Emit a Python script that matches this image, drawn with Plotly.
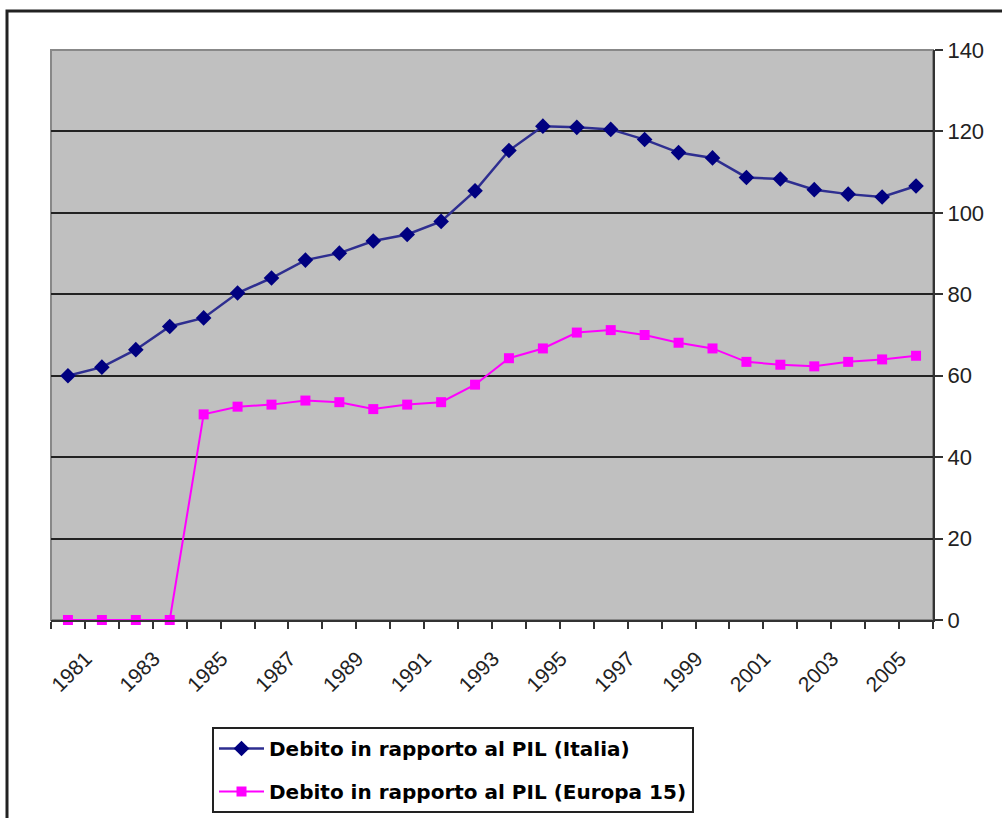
import plotly.graph_objects as go

# Rapporto debito/PIL, 1981-2006
anni = list(range(1981, 2007))
italia = [60.0, 62.1, 66.4, 72.1, 74.2, 80.3, 84.0, 88.4, 90.1, 93.1, 94.7, 97.9, 105.4,
          115.3, 121.3, 121.0, 120.5, 118.0, 114.8, 113.5, 108.7, 108.3, 105.7, 104.6,
          103.9, 106.6]
europa15 = [0, 0, 0, 0, 50.5, 52.4, 52.9, 53.9, 53.5, 51.8, 52.9, 53.5, 57.8,
            64.3, 66.7, 70.6, 71.2, 70.0, 68.1, 66.7, 63.4, 62.7, 62.3, 63.4, 64.0, 64.9]
etichette_anni = [str(a) for a in range(1981, 2006, 2)]
valori_y = list(range(0, 141, 20))

W, H = 1002, 818
L, R, T, B = 51, 933, 50, 620
pw, ph = R - L, B - T


def px(x):
    return (x - L) / pw


def py(y):
    return (B - y) / ph


fig = go.Figure()
fig.add_trace(go.Scatter(
    x=anni, y=italia, mode="lines+markers",
    name="Debito in rapporto al PIL (Italia)",
    legendgroup="it",
    line=dict(color="#2e2e90", width=2.5),
    marker=dict(symbol="diamond", size=12, color="#000080"),
    cliponaxis=False,
))
fig.add_trace(go.Scatter(
    x=anni, y=europa15, mode="lines+markers",
    name="Debito in rapporto al PIL (Europa 15)",
    legendgroup="eu",
    line=dict(color="#ff00ff", width=2),
    marker=dict(symbol="square", size=10, color="#ff00ff"),
    cliponaxis=False,
))

fig.update_layout(
    width=W, height=H,
    margin=dict(l=L, r=W - R, t=T, b=H - B, autoexpand=False),
    paper_bgcolor="white",
    plot_bgcolor="#c0c0c0",
    font=dict(family="Liberation Sans, Arial, sans-serif", color="#222"),
    showlegend=True,
    legend=dict(
        x=px(212), y=py(727), xanchor="left", yanchor="top",
        bgcolor="white", bordercolor="#222", borderwidth=2,
        font=dict(family="DejaVu Sans, Verdana, sans-serif", size=20, color="black",
                  weight="bold"),
        itemwidth=45, traceorder="grouped", tracegroupgap=14,
    ),
    xaxis=dict(
        range=[1980.5, 2006.5],
        tickmode="array",
        tickvals=list(range(1981, 2006, 2)),
        ticktext=etichette_anni,
        ticks="",
        tickangle=-45,
        tickfont=dict(family="Liberation Sans, Arial, sans-serif", size=21, color="#222"),
        ticklabelshift=18,
        ticklabelstandoff=16,
        showgrid=False,
        zeroline=False,
        showline=True, linecolor="#333", linewidth=2,
        minor=dict(tickmode="linear", tick0=1980.5, dtick=1, ticks="outside",
                   ticklen=7, tickwidth=2, tickcolor="#333", showgrid=False),
        fixedrange=True,
    ),
    yaxis=dict(
        range=[0, 140],
        side="right",
        tickmode="array",
        tickvals=valori_y,
        ticktext=[str(v) for v in valori_y],
        ticks="outside", ticklen=8, tickwidth=2, tickcolor="#333",
        tickfont=dict(family="Liberation Sans, Arial, sans-serif", size=22, color="#222"),
        showgrid=True, gridcolor="#222", gridwidth=2,
        zeroline=False,
        showline=True, linecolor="#333", linewidth=2,
        fixedrange=True,
    ),
    shapes=[
        # bordo dell'area del grafico
        dict(type="rect", xref="paper", yref="paper", x0=0, x1=1, y0=0, y1=1,
             line=dict(color="#888", width=2), layer="below"),
        # cornice esterna
        dict(type="rect", xref="paper", yref="paper",
             x0=px(7), x1=px(1010), y0=py(830), y1=py(11),
             line=dict(color="#222", width=3), layer="above"),
    ],
)

fig.write_html("out.html")
